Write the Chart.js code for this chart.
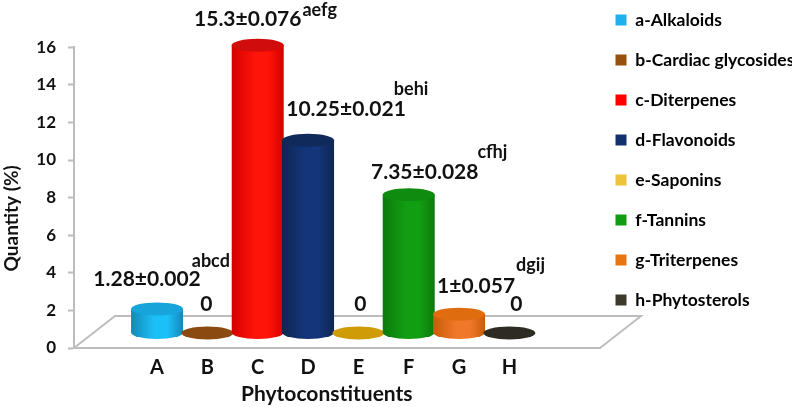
<!DOCTYPE html>
<html>
<head>
<meta charset="utf-8">
<style>
  html, body { margin: 0; padding: 0; background: #fff; }
  #wrap { width: 799px; height: 407px; }
</style>
<script src="https://cdn.jsdelivr.net/npm/chart.js@4/dist/chart.umd.min.js"></script>
</head>
<body>
<div id="wrap"><canvas id="chart" width="799" height="407"></canvas></div>
<script>
const categories = ['A', 'B', 'C', 'D', 'E', 'F', 'G', 'H'];
const quantities = [1.28, 0, 15.3, 10.25, 0, 7.35, 1, 0];
const valueLabels = ['1.28±0.002', '0', '15.3±0.076', '10.25±0.021', '0', '7.35±0.028', '1±0.057', '0'];
const superscripts = ['abcd', '', 'aefg', 'behi', '', 'cfhj', 'dgij', ''];
const legendNames = ['a-Alkaloids', 'b-Cardiac glycosides', 'c-Diterpenes', 'd-Flavonoids', 'e-Saponins', 'f-Tannins', 'g-Triterpenes', 'h-Phytosterols'];
const yTicks = [0, 2, 4, 6, 8, 10, 12, 14, 16];

// colours per bar: legend swatch, bright centre, dark edge, top cap
const swatchColors = ['#1fb0ee', '#96500f', '#ff0000', '#12306b', '#edc33a', '#149b14', '#e87510', '#3d3a2c'];
const midColors = ['#1cc0f8', '#8a4a10', '#ff1408', '#14357a', '#d9a40a', '#129e12', '#f0782a', '#33302a'];
const edgeColors = ['#1488b8', '#8a4a10', '#d40000', '#0e2652', '#d9a40a', '#0c7a0c', '#c85c08', '#33302a'];
const capColors = ['#16a4da', '#8a4a10', '#d00c0c', '#102a5c', '#cf9c08', '#0f8c0f', '#e06c10', '#2e2b25'];

// label placement relative to the top of each bar: [dx, dy]
const labelShift = [[-10, -30], [-1, -29], [-10, -26], [38, -31], [2, -29], [16, -23], [17, -28], [7, -29]];
// superscript placement relative to the end of the label: [dx, dy]
const supShift = [[-9, -18], [0, 0], [1, -9], [-12, -20], [0, 0], [-1, -20], [1, -21], [0, 0]];

const FONT = 'Lato, "Open Sans", sans-serif';
const TEXT_COLOR = '#111';
const BASE_LIFT = 15; // bars stand on the floor, above the axis line
const CAP_RY = 6.5;
const FLOOR_DX = 41;
const FLOOR_DY = 32;

// floor of the 3D box, behind the bars
const floorPlugin = {
  id: 'floor',
  beforeDatasetsDraw(chart) {
    const { ctx, chartArea: a } = chart;
    ctx.save();
    ctx.strokeStyle = '#bdbdbd';
    ctx.lineWidth = 2;
    ctx.beginPath();
    ctx.moveTo(a.left, a.bottom);
    ctx.lineTo(a.left + FLOOR_DX, a.bottom - FLOOR_DY);
    ctx.lineTo(a.right + FLOOR_DX, a.bottom - FLOOR_DY);
    ctx.lineTo(a.right, a.bottom);
    ctx.stroke();
    ctx.restore();
  }
};

// cylinders and value labels, placed from the bar elements of the chart
const cylinderPlugin = {
  id: 'cylinders',
  afterDatasetsDraw(chart) {
    const { ctx } = chart;
    const bars = chart.getDatasetMeta(0).data;
    bars.forEach(function(bar, i) {
      const rx = bar.width / 2;
      const top = bar.y - BASE_LIFT;
      const base = bar.base - BASE_LIFT;
      ctx.save();
      if (top < base) {
        const grad = ctx.createLinearGradient(bar.x - rx, 0, bar.x + rx, 0);
        grad.addColorStop(0, edgeColors[i]);
        grad.addColorStop(0.45, midColors[i]);
        grad.addColorStop(0.7, midColors[i]);
        grad.addColorStop(1, edgeColors[i]);
        ctx.fillStyle = grad;
        ctx.beginPath();
        ctx.moveTo(bar.x - rx, top);
        ctx.lineTo(bar.x - rx, base);
        ctx.ellipse(bar.x, base, rx, CAP_RY, 0, Math.PI, 0, true);
        ctx.lineTo(bar.x + rx, top);
        ctx.closePath();
        ctx.fill();
      }
      ctx.fillStyle = capColors[i];
      ctx.beginPath();
      ctx.ellipse(bar.x, top, rx, CAP_RY, 0, 0, Math.PI * 2);
      ctx.fill();
      ctx.restore();
    });

    ctx.save();
    ctx.fillStyle = TEXT_COLOR;
    ctx.textBaseline = 'middle';
    bars.forEach(function(bar, i) {
      const cx = bar.x + labelShift[i][0];
      const cy = bar.y - BASE_LIFT + labelShift[i][1];
      ctx.font = 'bold 21px ' + FONT;
      ctx.textAlign = 'center';
      ctx.fillText(valueLabels[i], cx, cy);
      if (superscripts[i]) {
        const end = cx + ctx.measureText(valueLabels[i]).width / 2;
        ctx.font = 'bold 18px ' + FONT;
        ctx.textAlign = 'left';
        ctx.fillText(superscripts[i], end + supShift[i][0], cy + supShift[i][1]);
      }
    });
    ctx.restore();
  }
};

// keeps the plot right edge at the floor corner and moves the legend into place
const legendFitPlugin = {
  id: 'legendFit',
  beforeInit(chart) {
    const fit = chart.legend.fit;
    chart.legend.fit = function() {
      fit.call(chart.legend);
      this.width = 199;
    };
  },
  afterLayout(chart) {
    chart.legend.top -= 11.25;
    chart.legend.bottom -= 11.25;
    chart.legend.left -= 7;
    chart.legend.right -= 7;
  }
};

new Chart(document.getElementById('chart'), {
  type: 'bar',
  data: {
    datasets: [{
      data: categories.map((c, i) => ({ x: i, y: quantities[i] })),
      backgroundColor: 'rgba(0,0,0,0)',
      barThickness: 52
    }]
  },
  plugins: [floorPlugin, cylinderPlugin, legendFitPlugin],
  options: {
    responsive: false,
    animation: false,
    plugins: {
      tooltip: { enabled: false },
      title: {
        display: true,
        text: ' ',
        fullSize: false,
        font: { size: 1 },
        padding: { top: 46, bottom: 0 }
      },
      legend: {
        position: 'right',
        align: 'start',
        onClick: null,
        labels: {
          boxWidth: 11,
          boxHeight: 11,
          padding: 22.5,
          color: TEXT_COLOR,
          font: { family: FONT, size: 17.5, weight: 'bold' },
          generateLabels: () => legendNames.map((name, i) => ({
            text: name,
            fillStyle: swatchColors[i],
            strokeStyle: swatchColors[i],
            lineWidth: 0,
            index: i
          }))
        }
      }
    },
    scales: {
      x: {
        type: 'linear',
        offset: false,
        min: -1.65,
        max: 8.8,
        afterBuildTicks(scale) {
          scale.ticks = categories.map((c, i) => ({ value: i }));
        },
        afterFit(scale) { scale.height = 59; },
        grid: { display: false },
        border: { color: '#bdbdbd', width: 2 },
        ticks: {
          autoSkip: false,
          maxRotation: 0,
          padding: 0,
          color: TEXT_COLOR,
          font: { family: FONT, size: 20, weight: 'bold' },
          callback: (v) => categories[v]
        },
        title: {
          display: true,
          // trailing spaces pull the centred title left of the plot centre
          text: 'Phytoconstituents    ',
          color: TEXT_COLOR,
          font: { family: FONT, size: 21, weight: 'bold' },
          padding: { top: 6, bottom: 0 }
        }
      },
      y: {
        min: 0,
        max: 16,
        afterBuildTicks(scale) {
          scale.ticks = yTicks.map((v) => ({ value: v }));
        },
        afterFit(scale) { scale.width = 74; },
        grid: { drawOnChartArea: false, tickLength: 6, color: '#bdbdbd', tickWidth: 2 },
        border: { color: '#bdbdbd', width: 2 },
        ticks: {
          padding: 12,
          color: TEXT_COLOR,
          font: { family: FONT, size: 17, weight: 'bold' }
        },
        title: {
          display: true,
          // trailing spaces pull the rotated title below the plot centre
          text: 'Quantity (%)         ',
          color: TEXT_COLOR,
          font: { family: FONT, size: 19, weight: 'bold' },
          padding: { top: 0, bottom: 0 }
        }
      }
    }
  }
});
</script>
</body>
</html>
